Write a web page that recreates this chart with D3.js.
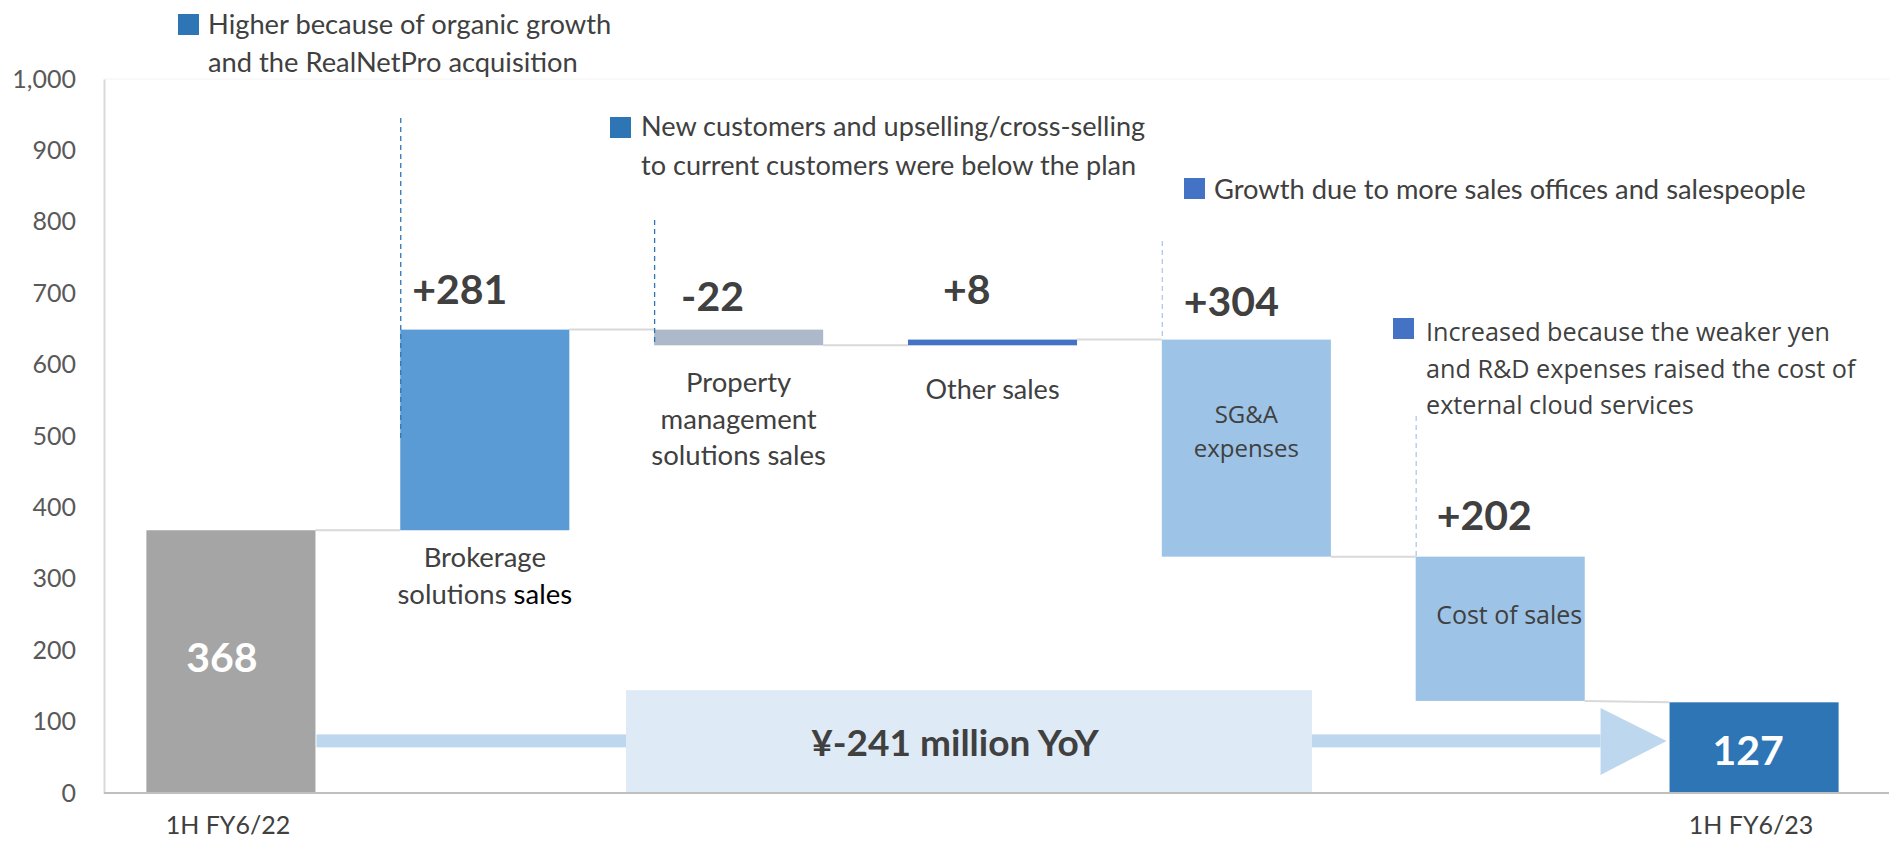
<!DOCTYPE html>
<html>
<head>
<meta charset="utf-8">
<script src="https://cdn.jsdelivr.net/npm/d3@7"></script>
<style>
  body { margin: 0; background: #fff; }
  svg { display: block; font-family: Lato, 'Open Sans', sans-serif; }
</style>
</head>
<body>
<svg id="chart" width="1889" height="843"></svg>
<script>
// waterfall data, millions of yen
const categories = ['1H FY6/22', 'Brokerage', 'Property', 'Other', 'SG&A', 'Cost', '1H FY6/23']
const values = [368, 281, -22, 8, -304, -202, 127]
const kinds = ['total', 'delta', 'delta', 'delta', 'delta', 'delta', 'total']
const valueLabels = ['368', '+281', '-22', '+8', '+304', '+202', '127']
const categoryLines = [
  [],
  ['Brokerage', 'solutions sales'],
  ['Property', 'management', 'solutions sales'],
  ['Other sales'],
  ['SG&A', 'expenses'],
  ['Cost of sales'],
  [],
]
const yTicks = [0, 100, 200, 300, 400, 500, 600, 700, 800, 900, 1000]
const noteTexts = [
  ['Higher because of organic growth', 'and the RealNetPro acquisition'],
  ['New customers and upselling/cross-selling', 'to current customers were below the plan'],
  ['Growth due to more sales offices and salespeople'],
  ['Increased because the weaker yen', 'and R&D expenses raised the cost of', 'external cloud services'],
]
const yoyLabel = '¥-241 million YoY'

const palette = ['#a5a5a5', '#5b9bd5', '#adb9ca', '#4472c4', '#9dc3e6', '#9dc3e6', '#2e75b6']
const TEXT = '#404040'

const svg = d3.select('#chart')

const y = d3.scaleLinear().domain([0, 1000]).range([793, 79])
const x = d3.scaleBand().domain(categories).range([104, 1881]).paddingInner(0.334).paddingOuter(0.167)
const bw = x.bandwidth()

// running totals
let run = 0
const bars = categories.map(function (c, i) {
  let from, to
  if (kinds[i] === 'total') {
    from = 0
    to = values[i]
    run = values[i]
  } else {
    from = run
    to = run + values[i]
    run = to
  }
  return { cat: c, i: i, from: from, to: to, lo: Math.min(from, to), hi: Math.max(from, to) }
})

// faint top line
svg.append('line')
  .attr('x1', x.range()[0]).attr('x2', 1889)
  .attr('y1', y(1000)).attr('y2', y(1000))
  .attr('stroke', '#f2f2f2').attr('stroke-width', 1)

// y axis
const yAxis = svg.append('g')
  .attr('transform', 'translate(104,0)')
  .call(d3.axisLeft(y).tickValues(yTicks).tickFormat(d3.format(',')).tickSize(0).tickSizeOuter(0).tickPadding(28))
yAxis.select('.domain').attr('stroke', '#d9d9d9').attr('stroke-width', 2)
yAxis.selectAll('text').attr('fill', '#595959').attr('font-size', 25).attr('font-family', 'Lato')

// yoy arrow + box (behind bars)
const arrowY = y(73)
const shaftX0 = x(categories[0]) + bw + 1
const tipX = x(categories[6]) - 3
svg.append('rect')
  .attr('x', shaftX0).attr('y', arrowY - 6.5)
  .attr('width', tipX - 66 - shaftX0).attr('height', 13)
  .attr('fill', '#bdd7ee')
svg.append('polygon')
  .attr('points', [[tipX - 66, arrowY - 33], [tipX, arrowY], [tipX - 66, arrowY + 34]].join(' '))
  .attr('fill', '#bdd7ee')
svg.append('rect')
  .attr('x', 626).attr('y', y(144))
  .attr('width', 686).attr('height', y(0) - y(144))
  .attr('fill', '#deebf7')
svg.append('text')
  .attr('x', 955).attr('y', 756)
  .attr('text-anchor', 'middle')
  .attr('font-size', 37).attr('font-weight', 'bold')
  .attr('fill', TEXT)
  .text(yoyLabel)

// connectors
for (let i = 0; i < bars.length - 1; i++) {
  const a = bars[i], b = bars[i + 1]
  const nextStart = kinds[i + 1] === 'total' ? b.to : b.from
  svg.append('line')
    .attr('x1', x(a.cat) + bw).attr('x2', x(b.cat))
    .attr('y1', y(a.to)).attr('y2', y(nextStart))
    .attr('stroke', '#d9d9d9').attr('stroke-width', 2)
}

// bars
svg.selectAll('rect.bar')
  .data(bars)
  .enter()
  .append('rect')
  .attr('class', 'bar')
  .attr('x', d => x(d.cat))
  .attr('y', d => y(d.hi))
  .attr('width', bw)
  .attr('height', d => y(d.lo) - y(d.hi))
  .attr('fill', d => palette[d.i])

// zero line
svg.append('line')
  .attr('x1', 104).attr('x2', 1889)
  .attr('y1', y(0)).attr('y2', y(0))
  .attr('stroke', '#bfbfbf').attr('stroke-width', 2)

// value labels
bars.forEach(function (d) {
  const t = svg.append('text')
    .attr('font-weight', 'bold')
    .attr('font-size', 41)
    .text(valueLabels[d.i])
  if (kinds[d.i] === 'total') {
    t.attr('x', x(d.cat) + bw / 2 - (d.i === 0 ? 9 : 6))
      .attr('y', d.i === 0 ? 672 : 765)
      .attr('text-anchor', 'middle')
      .attr('fill', '#fff')
  } else {
    const dx = { 1: 12, 2: 27, 3: 35, 4: 22, 5: 21 }[d.i]
    const dy = { 1: 304, 2: 311, 3: 304, 4: 316, 5: 530 }[d.i]
    t.attr('x', x(d.cat) + dx).attr('y', dy).attr('fill', TEXT)
  }
})

// category labels under/inside bars
const labelBase = { 1: y(368) + 37, 2: y(627) + 47, 3: y(627) + 54, 4: y(635) + 83, 5: y(331) + 67 }
const labelFont = { 1: 'Lato', 2: 'Lato', 3: 'Lato', 4: 'Open Sans', 5: 'Open Sans' }
const labelSize = { 1: 27.5, 2: 27.5, 3: 27, 4: 24, 5: 25 }
categoryLines.forEach(function (lines, i) {
  lines.forEach(function (line, j) {
    const t = svg.append('text')
      .attr('x', x(categories[i]) + bw / 2 + (i === 5 ? 9 : 0))
      .attr('y', labelBase[i] + j * (i === 4 ? 34 : 36.5))
      .attr('text-anchor', 'middle')
      .attr('font-family', labelFont[i])
      .attr('font-size', labelSize[i])
      .attr('fill', TEXT)
    if (i === 1 && j === 1) {
      t.append('tspan').text('solutions ')
      t.append('tspan').attr('fill', '#000').text('sales')
    } else {
      t.text(line)
    }
  })
})

// x labels for totals
;[0, 6].forEach(function (i) {
  svg.append('text')
    .attr('x', x(categories[i]) + bw / 2 - 3)
    .attr('y', 834)
    .attr('text-anchor', 'middle')
    .attr('font-size', 25)
    .attr('fill', TEXT)
    .text(categories[i])
})

// dashed leader lines
const leaders = [
  { i: 1, y0: 118, y1: 440, color: '#2e75b6' },
  { i: 2, y0: 220, y1: y(627), color: '#2e75b6' },
  { i: 4, y0: 241, y1: y(635), color: '#b4c7e7' },
  { i: 5, y0: 416, y1: y(331), color: '#b4c7e7' },
]
leaders.forEach(function (l) {
  svg.append('line')
    .attr('x1', x(categories[l.i]) + 0.5).attr('x2', x(categories[l.i]) + 0.5)
    .attr('y1', l.y0).attr('y2', l.y1)
    .attr('stroke', l.color).attr('stroke-width', 1.3)
    .attr('stroke-dasharray', '5,4')
})

// notes
const noteLayout = [
  { sx: 178, sy: 14, tx: 208, ty: 34, lh: 38, color: '#2e75b6', font: 'Lato', size: 27.3 },
  { sx: 610, sy: 117, tx: 641, ty: 136, lh: 39, color: '#2e75b6', font: 'Lato', size: 27.1 },
  { sx: 1184, sy: 178, tx: 1214, ty: 199, lh: 38, color: '#4472c4', font: 'Lato', size: 27.3 },
  { sx: 1393, sy: 318, tx: 1426, ty: 341, lh: 36.5, color: '#4472c4', font: 'Open Sans', size: 25.2 },
]
noteTexts.forEach(function (lines, k) {
  const L = noteLayout[k]
  svg.append('rect')
    .attr('x', L.sx).attr('y', L.sy)
    .attr('width', 21).attr('height', 21)
    .attr('fill', L.color)
  lines.forEach(function (line, j) {
    svg.append('text')
      .attr('x', L.tx).attr('y', L.ty + j * L.lh)
      .attr('font-family', L.font)
      .attr('font-size', L.size)
      .attr('fill', TEXT)
      .text(line)
  })
})
</script>
</body>
</html>
